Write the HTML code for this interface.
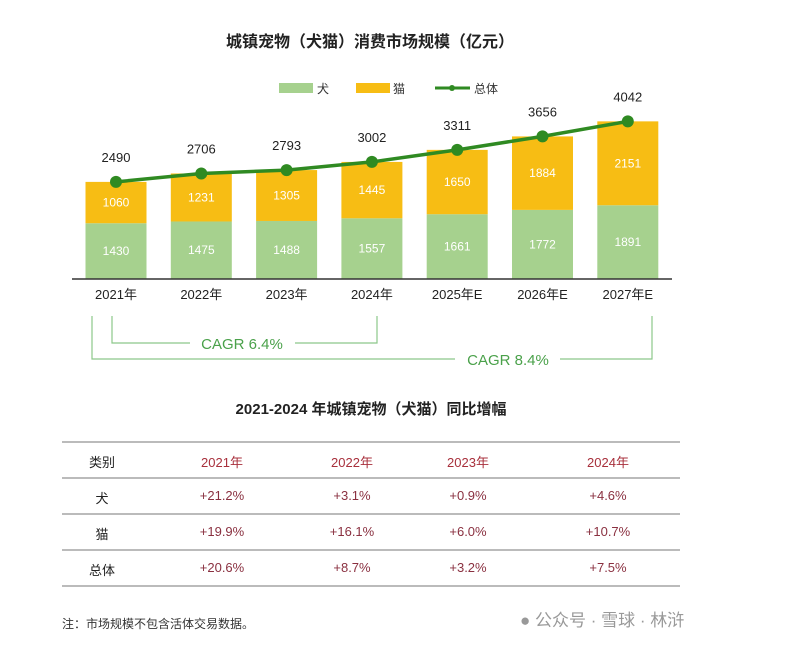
<!DOCTYPE html>
<html><head><meta charset="utf-8">
<style>
body{margin:0;background:#fff;font-family:"Liberation Sans","Noto Sans CJK SC",sans-serif;}
#wrap{position:relative;width:800px;height:649px;overflow:hidden;background:#fff}
.t{position:absolute;white-space:nowrap}
</style></head>
<body>
<div id="wrap">
<svg id="chart" width="800" height="649" style="position:absolute;left:0;top:0">
<text x="370" y="47" text-anchor="middle" font-size="16" font-weight="bold" fill="#222" font-family="Liberation Sans,Noto Sans CJK SC,sans-serif">城镇宠物（犬猫）消费市场规模（亿元）</text>
<g font-size="12" fill="#333" font-family="Liberation Sans,Noto Sans CJK SC,sans-serif">
<rect x="279" y="83" width="34" height="10" fill="#a6d18e"/>
<text x="317" y="93">犬</text>
<rect x="356" y="83" width="34" height="10" fill="#f7bd14"/>
<text x="393" y="93">猫</text>
<line x1="435" y1="88" x2="470" y2="88" stroke="#2f8a22" stroke-width="3"/>
<circle cx="452" cy="88" r="3" fill="#2f8a22"/>
<text x="474" y="93">总体</text>
</g>
<g id="bars"></g>
<line x1="72" y1="279" x2="672" y2="279" stroke="#333" stroke-width="1.5"/>
<g stroke="#8cc78a" stroke-width="1.2" fill="none">
<polyline points="112,316 112,343 190,343"/><polyline points="295,343 377,343 377,316"/>
<polyline points="92,316 92,359 455,359"/><polyline points="560,359 652,359 652,316"/>
</g>
<text x="242" y="349" text-anchor="middle" font-size="15" fill="#4aa14a">CAGR 6.4%</text>
<text x="508" y="365" text-anchor="middle" font-size="15" fill="#4aa14a">CAGR 8.4%</text>
</svg>
<script>
const categories=["2021年","2022年","2023年","2024年","2025年E","2026年E","2027年E"];
const dogValues=[1430,1475,1488,1557,1661,1772,1891];
const catValues=[1060,1231,1305,1445,1650,1884,2151];
const totalValues=[2490,2706,2793,3002,3311,3656,4042];
(function(){
const ns="http://www.w3.org/2000/svg";
const g=document.getElementById('bars');
const base=279,k=0.039,x0=116,step=85.3,bw=61;
const xs=i=>x0+i*step, ys=v=>base-v*k;
function el(t,a){const e=document.createElementNS(ns,t);for(const n in a)e.setAttribute(n,a[n]);g.appendChild(e);return e;}
function txt(x,y,s,fill,size,name){const e=el('text',{x:x,y:y,'text-anchor':'middle','font-size':size,fill:fill,'font-family':'Liberation Sans,Noto Sans CJK SC,sans-serif'});e.textContent=s;

return e;}
categories.forEach((c,i)=>{
 const cx=xs(i);
 const d=el('rect',{x:cx-bw/2,y:ys(dogValues[i]),width:bw,height:dogValues[i]*k,fill:'#a6d18e'});
 
 
 const ct=el('rect',{x:cx-bw/2,y:ys(dogValues[i]+catValues[i]),width:bw,height:catValues[i]*k,fill:'#f7bd14'});
 
 
 txt(cx,ys(dogValues[i]/2)+4,dogValues[i],'#fff',12,'dog-value-label');
 txt(cx,ys(dogValues[i]+catValues[i]/2)+4,catValues[i],'#fff',12,'cat-value-label');
 txt(cx,299,c,'#222',13,'x-tick-label');
});
let pts=totalValues.map((v,i)=>xs(i)+','+ys(v)).join(' ');
const pl=el('polyline',{points:pts,fill:'none',stroke:'#2f8a22','stroke-width':3.5});


totalValues.forEach((v,i)=>{
 const c=el('circle',{cx:xs(i),cy:ys(v),r:6,fill:'#2f8a22'});
 
 
 txt(xs(i),ys(v)-20,v,'#222',13,'total-value-label');
});
})();
</script>
<div class="t" style="left:0;width:742px;top:398px;text-align:center;font-size:15px;font-weight:bold;color:#222">2021-2024 年城镇宠物（犬猫）同比增幅</div>
<div style="position:absolute;left:62px;top:441px;width:618px;font-size:13px">
<div style="border-top:2px solid #bbb"></div>
<div id="rows"></div>
</div>
<script>
(function(){
const rows=[["类别","2021年","2022年","2023年","2024年"],["犬","+21.2%","+3.1%","+0.9%","+4.6%"],["猫","+19.9%","+16.1%","+6.0%","+10.7%"],["总体","+20.6%","+8.7%","+3.2%","+7.5%"]];
const cx=[40,160,290,406,546];
const r=document.getElementById('rows');
rows.forEach((row,ri)=>{
 const d=document.createElement('div');
 d.style.cssText='position:relative;height:34px;border-bottom:2px solid #bbb';
 
 
 row.forEach((s,ci)=>{
  const c=document.createElement('div');
  c.textContent=s;
  c.style.cssText='position:absolute;top:9px;width:100px;text-align:center;left:'+(cx[ci]-50)+'px;color:'+(ci==0?'#222':(ri==0?'#a8303c':'#8a3040'));
  
  
  d.appendChild(c);
 });
 r.appendChild(d);
});
})();
</script>
<div class="t" style="left:62px;top:615px;font-size:12px;color:#333">注：市场规模不包含活体交易数据。</div>
<div class="t" style="left:520px;top:606px;font-size:17px;color:#999">● 公众号 · 雪球 · 林浒</div>
</div>
</body></html>
